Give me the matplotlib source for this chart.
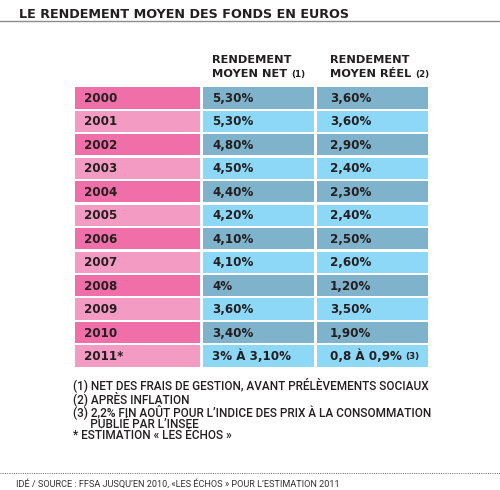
import matplotlib
matplotlib.use("Agg")
import matplotlib.pyplot as plt

# --- Données ---
annees = ["2000", "2001", "2002", "2003", "2004", "2005", "2006",
          "2007", "2008", "2009", "2010", "2011*"]
rendement_net = ["5,30%", "5,30%", "4,80%", "4,50%", "4,40%", "4,20%", "4,10%",
                 "4,10%", "4%", "3,60%", "3,40%", "3% À 3,10%"]
rendement_reel = ["3,60%", "3,60%", "2,90%", "2,40%", "2,30%", "2,40%", "2,50%",
                  "2,60%", "1,20%", "3,50%", "1,90%", "0,8 À 0,9%"]
notes = [
    "(1) NET DES FRAIS DE GESTION, AVANT PRÉLÈVEMENTS SOCIAUX",
    "(2) APRÈS INFLATION",
    "(3) 2,2% FIN AOÛT POUR L\u2019INDICE DES PRIX À LA CONSOMMATION",
    "      PUBLIÉ PAR L\u2019INSEE",
    "* ESTIMATION « LES ÉCHOS »",
]
titre = "LE RENDEMENT MOYEN DES FONDS EN EUROS"
source = "IDÉ / SOURCE : FFSA JUSQU\u2019EN 2010, «LES ÉCHOS » POUR L\u2019ESTIMATION 2011"

# --- Style ---
ROSE_FONCE, ROSE_CLAIR = "#f06fa9", "#f49bc4"
BLEU_FONCE, BLEU_CLAIR = "#7fb3cb", "#8dd8f7"
TEXTE = "#231f20"
BOLD = ["DejaVu Sans"]
NORMAL = ["Roboto", "DejaVu Sans"]

fig = plt.figure(figsize=(5.0, 4.9), dpi=100)
ax = fig.add_axes([0, 0, 1, 1])
ax.set_xlim(0, 500)
ax.set_ylim(490, 0)
ax.axis("off")


def renvoi(t, s, dx=4):
    # petit appel de note collé à droite d'un texte
    ax.annotate(s, xy=(1, 0.5), xycoords=t, xytext=(dx, -0.3),
                textcoords="offset pixels", fontsize=6.3, fontweight="bold",
                family=BOLD, color=TEXTE, va="center", ha="left")


# titre + filet
ax.text(19, 14, titre, fontsize=9.2, fontweight="bold", family=BOLD,
        color=TEXTE, va="center", ha="left")
ax.plot([0, 500], [21.5, 21.5], color="#8c8c8c", lw=1.0)

# en-têtes
for x, l1, l2, note in [(212, "RENDEMENT", "MOYEN NET", "(1)"),
                        (330, "RENDEMENT", "MOYEN RÉEL", "(2)")]:
    ax.text(x, 60, l1, fontsize=8.2, fontweight="bold", family=BOLD,
            color=TEXTE, va="center", ha="left")
    t = ax.text(x, 74, l2, fontsize=8.2, fontweight="bold", family=BOLD,
                color=TEXTE, va="center", ha="left")
    renvoi(t, note)

# tableau
n = len(annees)
y0, pas, haut = 98, 23.45, 21.2
ys = [y0 + i * pas for i in range(n)]
roses = [ROSE_FONCE if i % 2 == 0 else ROSE_CLAIR for i in range(n)]
bleus = [BLEU_FONCE if i % 2 == 0 else BLEU_CLAIR for i in range(n)]
ax.barh(ys, 125, left=75, height=haut, color=roses)
ax.barh(ys, 111, left=203.3, height=haut, color=bleus)
ax.barh(ys, 111, left=316.7, height=haut, color=bleus)

for y, a, rn, rr in zip(ys, annees, rendement_net, rendement_reel):
    for x, s in [(84, a), (212, rn), (330, rr)]:
        t = ax.text(x, y + 0.5, s, fontsize=8.6, fontweight="bold", family=BOLD,
                    color=TEXTE, va="center", ha="left")
renvoi(t, "(3)", dx=3)

# notes
ax.text(73, 377.5, "\n".join(notes), fontsize=8.5, family=NORMAL,
        fontweight="medium", color=TEXTE, va="top", ha="left", linespacing=0.86)

# pied
ax.plot([0, 500], [473, 473], color="#666666", lw=0.7, ls=(0, (1, 1.3)))
ax.text(16, 483.5, source, fontsize=6.6, family=NORMAL, color="#333333",
        va="center", ha="left")

fig.savefig("out.png", dpi=100)
